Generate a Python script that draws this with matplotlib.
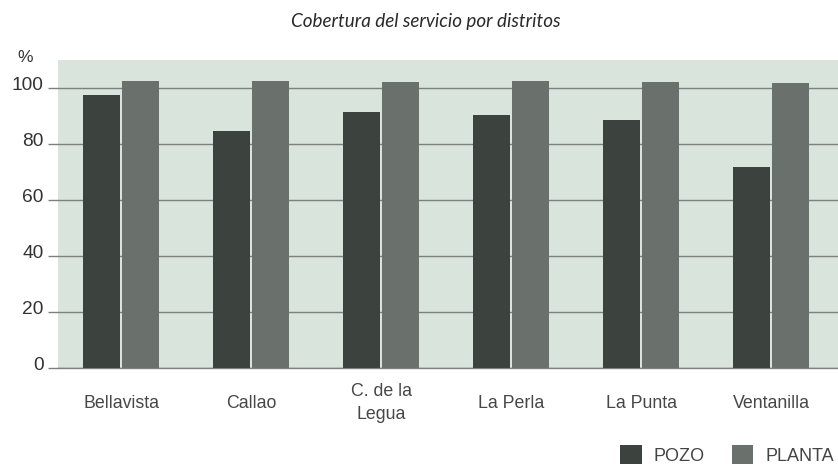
import matplotlib.pyplot as plt
import numpy as np
from matplotlib.patches import Patch
from matplotlib.transforms import ScaledTranslation

plt.rcParams['font.family'] = ['Liberation Sans', 'DejaVu Sans']

# Coverage by district (%)
distritos = ['Bellavista', 'Callao', 'C. de la\nLegua', 'La Perla', 'La Punta', 'Ventanilla']
pozo = [97.4, 84.8, 91.5, 90.3, 88.5, 71.7]
planta = [102.7, 102.4, 102.1, 102.5, 102.1, 101.8]
yticks = [0, 20, 40, 60, 80, 100]

c_pozo = '#3c423e'
c_planta = '#6a706c'
c_grid = '#7d817e'
c_bg = '#d9e4dd'

fig = plt.figure(figsize=(8.38, 4.69), dpi=100)
ax = fig.add_axes([0.0692, 0.2143, 0.9308, 0.6577])
ax.set_facecolor(c_bg)

x = np.arange(len(distritos))
w = 0.285
ax.bar(x - w / 2 - 0.008, pozo, width=w, color=c_pozo, zorder=3)
ax.bar(x + w / 2 + 0.008, planta, width=w, color=c_planta, zorder=3)

ax.set_xlim(-0.485, 5.515)
ax.set_ylim(0, 110)
ax.set_yticks(yticks)
ax.yaxis.grid(True, color=c_grid, linewidth=1.0, zorder=1)
ax.set_axisbelow(True)

for s in ['top', 'right', 'left']:
    ax.spines[s].set_visible(False)
ax.spines['bottom'].set_color(c_grid)
ax.spines['bottom'].set_linewidth(1.0)

ax.tick_params(axis='y', length=7.5, color=c_grid, width=1.0, pad=3,
               labelsize=13.8, labelcolor='#333333')
# lift the y labels a bit above their gridlines
lift = ScaledTranslation(0, 0.05, fig.dpi_scale_trans)
for lab in ax.get_yticklabels():
    lab.set_transform(lab.get_transform() + lift)

ax.set_xticks(x)
ax.set_xticklabels(distritos, fontsize=12.8, color='#474747')
ax.tick_params(axis='x', length=0, pad=25)
for lab in ax.get_xticklabels():
    lab.set_verticalalignment('center')
    lab.set_linespacing(1.45)

fig.text(25 / 838, 1 - 57 / 469, '%', fontsize=12.5, color='#333333',
         ha='center', va='center')
fig.text(426 / 838, 1 - 21 / 469, 'Cobertura del servicio por distritos',
         family=['Lato', 'DejaVu Sans'], style='italic', fontsize=13.6,
         color='#2a2a2a', ha='center', va='center')

handles = [Patch(facecolor=c_pozo, label='POZO'),
           Patch(facecolor=c_planta, label='PLANTA')]
fig.legend(handles=handles, loc='center left',
           bbox_to_anchor=(620 / 838, 1 - 455 / 469), ncol=2, frameon=False,
           fontsize=13, labelcolor='#444444', borderpad=0, borderaxespad=0,
           handlelength=1.2, handleheight=1.2, handletextpad=0.65,
           columnspacing=1.5)

fig.savefig('out.png', dpi=100)
